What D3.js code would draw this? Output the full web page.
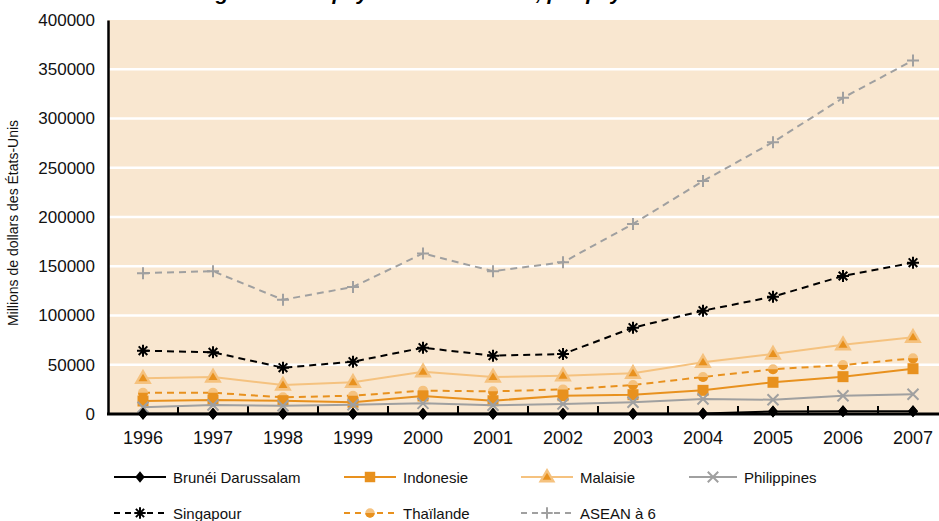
<!DOCTYPE html>
<html lang="fr">
<head>
<meta charset="utf-8">
<script src="https://cdn.jsdelivr.net/npm/d3@7"></script>
<style>
  html, body { margin: 0; padding: 0; background: #fff; }
  svg { display: block; font-family: "Liberation Sans", Arial, Helvetica, sans-serif; }
</style>
</head>
<body>
<svg id="chart" width="939" height="521"></svg>
<script>
// Années
const years = ["1996","1997","1998","1999","2000","2001","2002","2003","2004","2005","2006","2007"];

// Valeurs (millions de dollars des États-Unis)
const brunei      = [300, 300, 300, 300, 300, 300, 300, 300, 500, 2500, 2700, 2900];
const indonesie   = [13200, 14200, 13500, 11900, 18300, 13500, 18600, 19600, 24000, 32200, 37900, 46000];
const malaisie    = [36200, 37600, 29400, 32200, 42900, 37600, 38900, 41300, 52500, 60900, 70400, 77900];
const philippines = [6800, 9100, 8400, 9400, 10800, 8800, 10100, 11900, 15200, 14500, 18600, 20000];
const singapour   = [64300, 62600, 47000, 53100, 67300, 59200, 60900, 87600, 104900, 119100, 140100, 153600];
const thailande   = [21600, 21600, 16900, 18600, 23700, 23000, 25000, 29400, 37600, 45400, 49700, 56500];
const asean6      = [143000, 145000, 116000, 129000, 163000, 145000, 154000, 193000, 236500, 276000, 321000, 359000];

const yTicks = [0, 50000, 100000, 150000, 200000, 250000, 300000, 350000, 400000];

const titleText = "Stock d'IED de la région et des pays de l'ASEAN à 6, par pays";
const yTitle = "Millions de dollars des États-Unis";

const ORANGE = "#e8911e", LIGHT = "#f5c27f", GREY = "#a0a0a0", BLACK = "#000";

const series = [
  { name: "ASEAN à 6",         values: asean6,      color: GREY,   dash: "7,5", marker: "plus" },
  { name: "Singapour",         values: singapour,   color: BLACK,  dash: "7,5", marker: "star" },
  { name: "Malaisie",          values: malaisie,    color: LIGHT,  dash: null,  marker: "triangle" },
  { name: "Thaïlande",         values: thailande,   color: ORANGE, dash: "7,5", marker: "halfcircle" },
  { name: "Indonesie",         values: indonesie,   color: ORANGE, dash: null,  marker: "square" },
  { name: "Philippines",       values: philippines, color: GREY,   dash: null,  marker: "cross" },
  { name: "Brunéi Darussalam", values: brunei,      color: BLACK,  dash: null,  marker: "diamond" }
];

// Ordre et position de la légende
const legendOrder = [
  ["Brunéi Darussalam", "Indonesie", "Malaisie", "Philippines"],
  ["Singapour", "Thaïlande", "ASEAN à 6"]
];
const legendCols = [{ x0: 114, x1: 166 }, { x0: 344, x1: 396 }, { x0: 521, x1: 573 }, { x0: 689, x1: 737 }];
const legendRows = [477, 513];

const svg = d3.select("#chart");
const W = 939, H = 521;
const plot = { left: 108, right: 948, top: 20, bottom: 414 };

const x = d3.scaleBand().domain(years).range([plot.left, plot.right]);
const y = d3.scaleLinear().domain([0, 400000]).range([plot.bottom, plot.top]);
const cx = d => x(d) + x.bandwidth() / 2;

// Titre (en partie hors du cadre)
svg.append("text")
  .attr("x", 634).attr("y", -0.5)
  .attr("text-anchor", "end")
  .attr("font-size", 21).attr("font-weight", "bold").attr("font-style", "italic")
  .text(titleText);

// Fond de la zone de tracé
svg.append("rect")
  .attr("x", plot.left).attr("y", plot.top)
  .attr("width", W - plot.left).attr("height", plot.bottom - plot.top)
  .attr("fill", "#f9e7d0");

// Quadrillage horizontal
svg.append("g").selectAll("line")
  .data(yTicks.filter(v => v > 0 && v < 400000))
  .join("line")
  .attr("x1", plot.left).attr("x2", W)
  .attr("y1", d => y(d)).attr("y2", d => y(d))
  .attr("stroke", "#fff").attr("stroke-width", 2.5);

// Axe vertical
const yAxis = svg.append("g")
  .attr("transform", `translate(${plot.left},0)`)
  .call(d3.axisLeft(y).tickValues(yTicks).tickFormat(d3.format("d")).tickSize(0).tickPadding(13));
yAxis.select(".domain").attr("stroke", BLACK).attr("stroke-width", 2.5);
yAxis.selectAll("text").attr("font-size", 17).attr("fill", "#111").attr("font-family", "Liberation Sans, Arial, sans-serif");

// Titre de l'axe vertical
svg.append("text")
  .attr("transform", `translate(18,${(plot.top + plot.bottom) / 2 + 6}) rotate(-90)`)
  .attr("text-anchor", "middle")
  .attr("font-size", 14).attr("fill", "#111")
  .text(yTitle);

// Axe horizontal : graduations aux limites des catégories
const xg = svg.append("g");
xg.selectAll("line.tick")
  .data(years.slice(1))
  .join("line")
  .attr("class", "tick")
  .attr("x1", d => x(d)).attr("x2", d => x(d))
  .attr("y1", plot.bottom).attr("y2", plot.bottom - 8)
  .attr("stroke", BLACK).attr("stroke-width", 2);
xg.selectAll("text")
  .data(years)
  .join("text")
  .attr("x", d => cx(d)).attr("y", 438)
  .attr("text-anchor", "middle").attr("dominant-baseline", "central")
  .attr("font-size", 18).attr("fill", "#111")
  .text(d => d);

// Symboles
function drawMarker(g, type, color, px, py, s) {
  const k = s || 1;
  if (type === "diamond") {
    g.append("path").attr("d", `M${px},${py - 6 * k}L${px + 5 * k},${py}L${px},${py + 6 * k}L${px - 5 * k},${py}Z`)
      .attr("fill", BLACK);
  } else if (type === "square") {
    g.append("rect").attr("x", px - 5.5 * k).attr("y", py - 5.5 * k)
      .attr("width", 11 * k).attr("height", 11 * k).attr("fill", ORANGE);
  } else if (type === "triangle") {
    g.append("path").attr("d", `M${px},${py - 8 * k}L${px + 7.5 * k},${py + 5 * k}L${px - 7.5 * k},${py + 5 * k}Z`)
      .attr("fill", LIGHT).attr("stroke", LIGHT).attr("stroke-width", 1.5);
    g.append("path").attr("d", `M${px},${py - 4.5 * k}L${px + 4.5 * k},${py + 3 * k}L${px - 4.5 * k},${py + 3 * k}Z`)
      .attr("fill", ORANGE);
  } else if (type === "cross") {
    const r = 5.5 * k;
    g.append("path").attr("d", `M${px - r},${py - r}L${px + r},${py + r}M${px - r},${py + r}L${px + r},${py - r}`)
      .attr("stroke", GREY).attr("stroke-width", 2).attr("fill", "none");
  } else if (type === "star") {
    const r = 6 * k, d = r * 0.72;
    g.append("path").attr("d",
      `M${px - r},${py}L${px + r},${py}M${px},${py - r}L${px},${py + r}` +
      `M${px - d},${py - d}L${px + d},${py + d}M${px - d},${py + d}L${px + d},${py - d}`)
      .attr("stroke", BLACK).attr("stroke-width", 2).attr("fill", "none");
  } else if (type === "plus") {
    const r = 6 * k;
    g.append("path").attr("d", `M${px - r},${py}L${px + r},${py}M${px},${py - r}L${px},${py + r}`)
      .attr("stroke", GREY).attr("stroke-width", 2).attr("fill", "none");
  } else if (type === "halfcircle") {
    const r = 5 * k;
    g.append("circle").attr("cx", px).attr("cy", py).attr("r", r).attr("fill", LIGHT);
    g.append("path").attr("d", `M${px - r},${py}A${r},${r} 0 0 0 ${px + r},${py}Z`).attr("fill", ORANGE);
  }
}

const line = d3.line().x((d, i) => cx(years[i])).y(d => y(d));

const clip = svg.append("clipPath").attr("id", "plotclip")
  .append("rect").attr("x", 0).attr("y", 0).attr("width", W).attr("height", H);

// Courbes
series.forEach(s => {
  const g = svg.append("g").attr("clip-path", "url(#plotclip)");
  g.append("path")
    .datum(s.values)
    .attr("d", line)
    .attr("fill", "none")
    .attr("stroke", s.color)
    .attr("stroke-width", 2)
    .attr("stroke-dasharray", s.dash);
  s.values.forEach((v, i) => drawMarker(g, s.marker, s.color, cx(years[i]), y(v)));
});

// Axe horizontal (trait)
svg.append("line")
  .attr("x1", plot.left - 1).attr("x2", W)
  .attr("y1", plot.bottom).attr("y2", plot.bottom)
  .attr("stroke", BLACK).attr("stroke-width", 3);
// Repeindre les losanges du Brunéi sur l'axe
const bg = svg.append("g");
brunei.forEach((v, i) => drawMarker(bg, "diamond", BLACK, cx(years[i]), y(v)));

// Légende
const byName = Object.fromEntries(series.map(s => [s.name, s]));
legendOrder.forEach((row, r) => {
  row.forEach((name, c) => {
    const s = byName[name];
    const col = legendCols[c];
    const ly = legendRows[r];
    const g = svg.append("g");
    g.append("line")
      .attr("x1", col.x0).attr("x2", col.x1).attr("y1", ly).attr("y2", ly)
      .attr("stroke", s.color).attr("stroke-width", 2)
      .attr("stroke-dasharray", s.dash ? "6,5" : null);
    drawMarker(g, s.marker, s.color, (col.x0 + col.x1) / 2, ly, 0.95);
    g.append("text")
      .attr("x", col.x1 + 7).attr("y", ly)
      .attr("dominant-baseline", "central")
      .attr("font-size", 15).attr("fill", "#111")
      .text(name);
  });
});
</script>
</body>
</html>
